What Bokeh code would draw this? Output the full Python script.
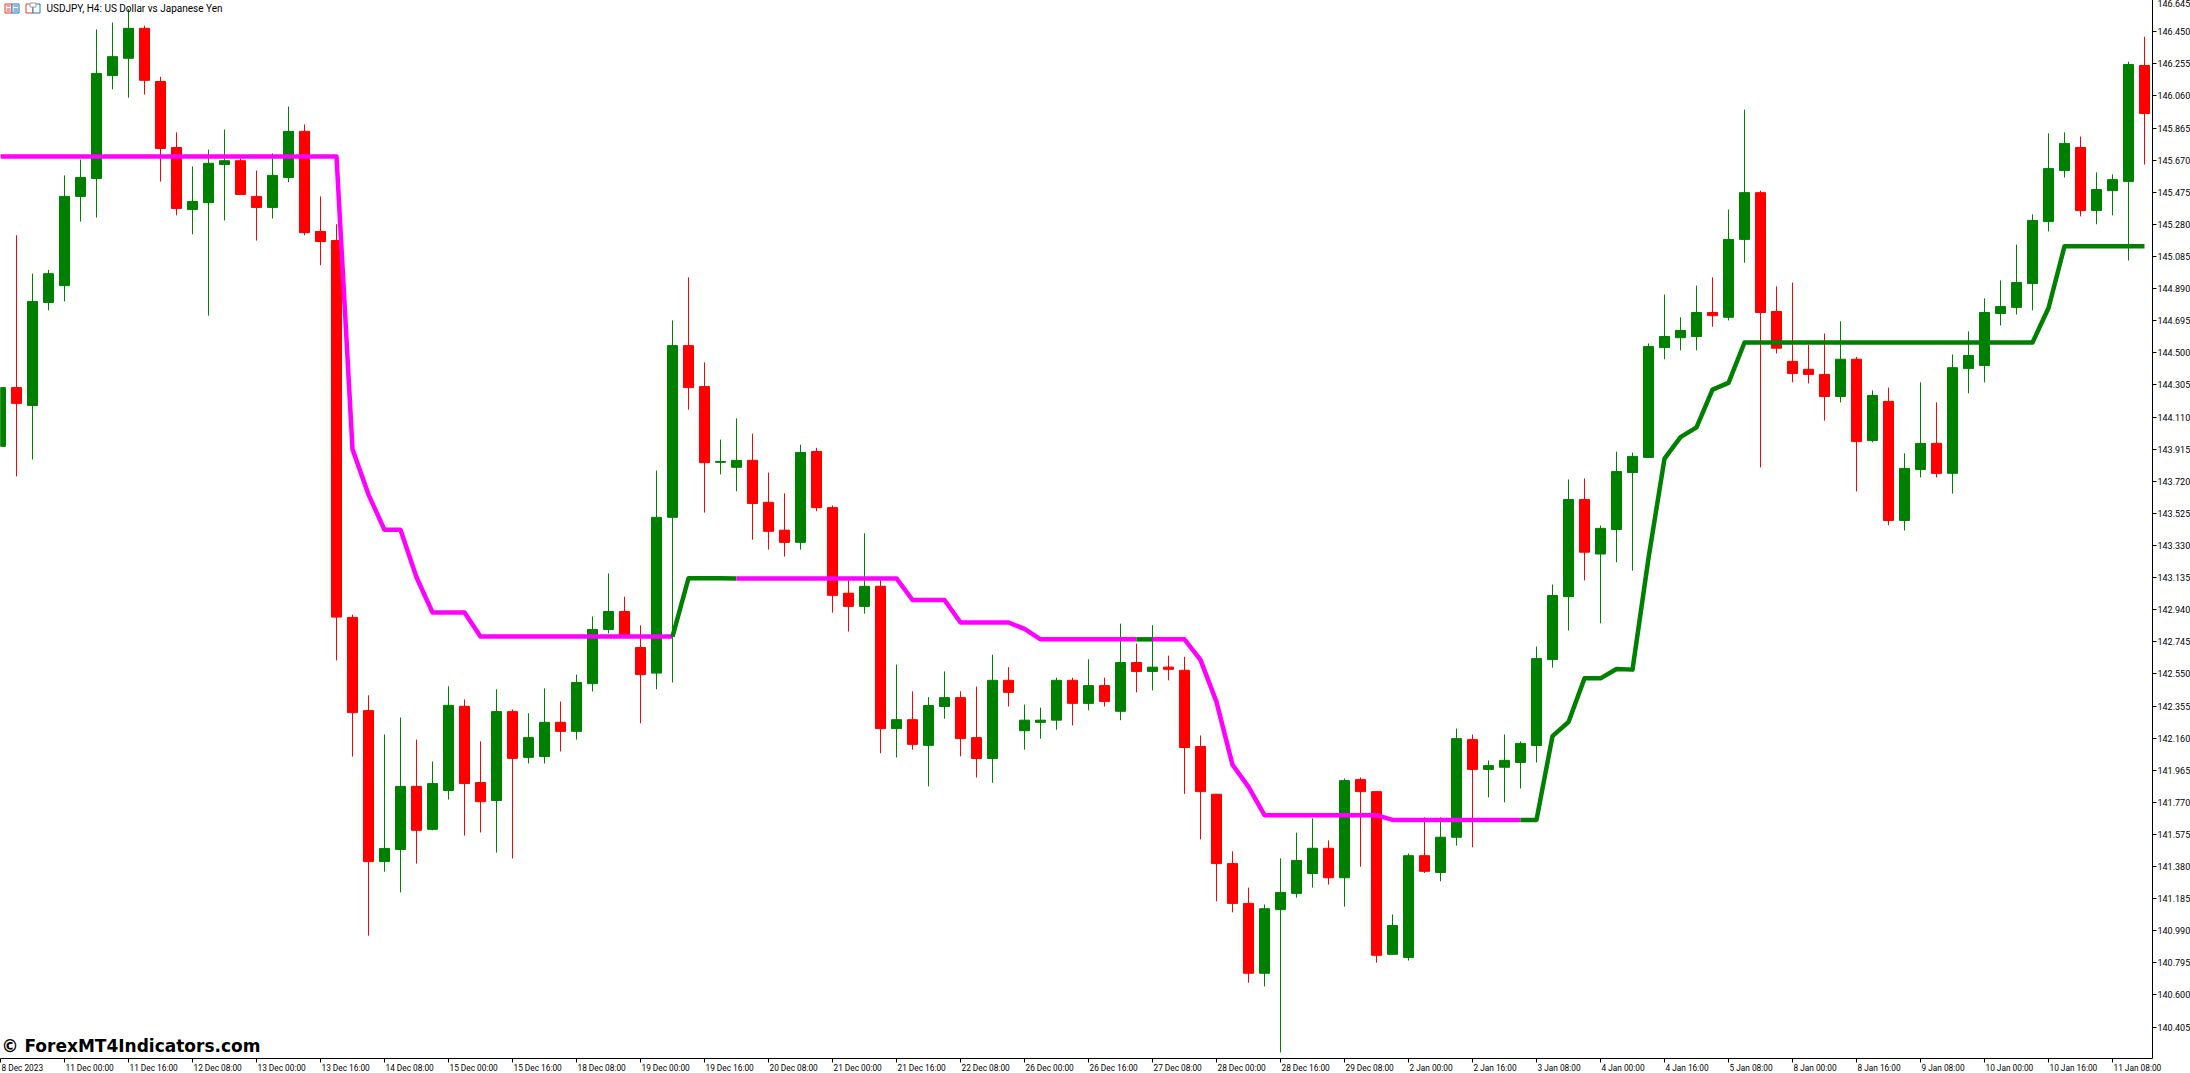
from bokeh.plotting import figure
from bokeh.models import (FixedTicker, Label, ColumnDataSource, Range1d, LinearAxis)
from bokeh.embed import file_html
from bokeh.resources import INLINE

highs = [144.289,145.214,144.981,145.004,145.578,145.674,146.464,146.506,146.588,146.487,
146.176,145.839,145.632,145.734,145.856,145.682,145.607,145.711,145.996,145.887,
145.450,145.281,142.910,142.420,142.182,142.285,142.151,142.018,142.475,142.395,
142.140,142.456,142.334,142.311,142.462,142.382,142.546,142.899,143.160,143.019,
142.845,143.785,144.697,144.958,144.442,143.973,144.102,144.009,143.773,143.646,
143.942,143.923,143.573,143.117,143.404,143.120,142.607,142.444,142.409,142.565,
142.444,142.473,142.667,142.591,142.364,142.345,142.527,142.527,142.639,142.527,
142.855,142.734,142.846,142.661,142.654,142.176,141.819,141.472,141.252,141.150,
141.430,141.586,141.673,141.539,141.915,141.921,141.835,141.089,141.459,141.679,
141.679,142.218,142.182,142.025,142.182,142.140,142.716,143.093,143.731,143.737,
143.451,143.900,143.894,144.557,144.854,144.716,144.908,144.958,145.370,145.977,
145.485,144.904,144.927,144.548,144.617,144.691,144.475,144.272,144.289,143.890,
144.321,144.199,144.490,144.630,144.831,144.940,145.157,145.341,145.833,145.839,
145.814,145.596,145.584,146.268,146.420]

opens = [143.932,144.289,144.180,144.806,144.908,145.450,145.559,146.184,146.289,146.471,
146.148,145.747,145.370,145.412,145.644,145.667,145.450,145.383,145.565,145.845,
145.237,145.182,142.893,142.327,141.410,141.484,141.867,141.606,141.842,142.353,
141.890,141.781,142.321,142.043,142.048,142.256,142.201,142.491,142.820,142.929,
142.710,142.555,143.501,144.544,144.295,143.835,143.805,143.847,143.592,143.423,
143.349,143.901,143.560,143.040,142.960,143.082,142.218,142.272,142.116,142.352,
142.406,142.163,142.036,142.511,142.205,142.256,142.269,142.511,142.371,142.479,
142.323,142.619,142.565,142.591,142.572,142.109,141.819,141.398,141.156,140.732,
141.118,141.217,141.338,141.491,141.312,141.908,141.835,140.847,140.828,141.446,
141.344,141.558,142.151,141.970,141.983,142.012,142.115,142.637,143.019,143.609,
143.278,143.427,143.773,143.865,144.532,144.592,144.599,144.745,144.716,145.189,
145.473,144.751,144.448,144.400,144.369,144.235,144.461,143.967,144.205,143.482,
143.791,143.950,143.768,144.404,144.423,144.739,144.776,144.921,145.297,145.607,
145.747,145.364,145.485,145.540,146.245]

closes = [144.289,144.193,144.812,144.981,145.450,145.565,146.197,146.299,146.471,146.155,
145.741,145.377,145.419,145.651,145.667,145.462,145.383,145.578,145.845,145.230,
145.176,142.895,142.315,141.410,141.490,141.867,141.600,141.884,142.359,141.884,
141.774,142.321,142.037,142.163,142.256,142.201,142.498,142.820,142.929,142.780,
142.546,143.501,144.544,144.289,143.833,143.840,143.847,143.585,143.416,143.349,
143.895,143.560,143.027,142.960,143.082,142.218,142.272,142.122,142.358,142.406,
142.157,142.036,142.511,142.438,142.269,142.269,142.511,142.371,142.479,142.383,
142.619,142.565,142.591,142.578,142.103,141.835,141.398,141.156,140.732,141.124,
141.223,141.417,141.491,141.312,141.902,141.835,140.841,141.022,141.446,141.351,
141.558,142.157,141.970,141.993,142.025,142.128,142.643,143.026,143.609,143.289,
143.434,143.779,143.871,144.538,144.599,144.636,144.745,144.726,145.189,145.473,
144.745,144.528,144.375,144.369,144.235,144.461,143.961,144.241,143.482,143.798,
143.950,143.768,144.410,144.484,144.745,144.781,144.927,145.304,145.619,145.772,
145.364,145.492,145.552,146.251,145.954]

lows = [143.932,143.750,143.852,144.758,144.812,145.297,145.322,146.100,146.050,146.069,
145.540,145.335,145.220,144.726,145.304,145.462,145.182,145.316,145.536,145.214,
145.032,142.632,142.048,140.960,141.349,141.223,141.398,141.600,141.787,141.568,
141.587,141.465,141.429,142.006,142.006,142.079,142.151,142.443,142.796,142.775,
142.250,142.456,142.498,144.155,143.530,143.762,143.659,143.365,143.305,143.263,
143.305,143.538,142.922,142.807,142.916,142.068,142.042,142.090,141.867,142.278,
142.049,141.921,141.889,142.352,142.090,142.157,142.211,142.237,142.329,142.352,
142.269,142.438,142.450,142.511,141.822,141.545,141.169,141.102,140.675,140.652,
140.251,141.191,141.252,141.271,141.137,141.379,140.796,140.847,140.809,141.341,
141.290,141.507,141.497,141.800,141.770,141.854,142.012,142.588,142.813,143.118,
142.857,143.228,143.177,143.865,144.461,144.515,144.515,144.659,144.697,145.048,
143.804,144.496,144.321,144.314,144.088,144.199,143.658,143.957,143.453,143.421,
143.743,143.743,143.645,144.254,144.321,144.666,144.733,144.758,145.237,145.565,
145.329,145.281,145.335,145.061,145.644]

stop_line = [145.693]*22 + [143.915,143.639,143.425,143.425,143.137,142.923,142.923,142.923] \
    + [142.777]*13 + [143.131]*3 + [143.130]*11 + [142.999]*3 + [142.862]*4 + [142.823] \
    + [142.760]*10 + [142.635,142.380,141.998,141.864] + [141.692]*8 + [141.663]*10 \
    + [142.172,142.258,142.523,142.523,142.580,142.576,143.253,143.858,143.988,144.047,144.277,144.318] \
    + [144.563]*19 + [144.772] + [145.147]*6
green_runs = [(42, 46), (71, 72), (95, 134)]

tick_bars = list(range(0, 133, 4))
tick_labels = ["8 Dec 2023","11 Dec 00:00","11 Dec 16:00","12 Dec 08:00","13 Dec 00:00","13 Dec 16:00",
 "14 Dec 08:00","15 Dec 00:00","15 Dec 16:00","18 Dec 08:00","19 Dec 00:00","19 Dec 16:00",
 "20 Dec 08:00","21 Dec 00:00","21 Dec 16:00","22 Dec 08:00","26 Dec 00:00","26 Dec 16:00",
 "27 Dec 08:00","28 Dec 00:00","28 Dec 16:00","29 Dec 08:00","2 Jan 00:00","2 Jan 16:00",
 "3 Jan 08:00","4 Jan 00:00","4 Jan 16:00","5 Jan 08:00","8 Jan 00:00","8 Jan 16:00",
 "9 Jan 08:00","10 Jan 00:00","10 Jan 16:00","11 Jan 08:00"]
price_ticks = [140.405,140.600,140.795,140.990,141.185,141.380,141.575,141.770,141.965,142.160,
 142.355,142.550,142.745,142.940,143.135,143.330,143.525,143.720,143.915,144.110,144.305,144.500,
 144.695,144.890,145.085,145.280,145.475,145.670,145.865,146.060,146.255,146.450,146.645]
title_text = "USDJPY, H4:  US Dollar vs Japanese Yen"
mark_text = "\u00a9 ForexMT4Indicators.com"

GREEN, RED, MAGENTA = "#008000", "#ff0000", "#ff00ff"
FONT = "Roboto"
FSIZE = "9px"
XFS = 8.3
FW, FH = 2152, 1059       # the frame starts one pixel above the page top
PX_PER_BAR = 16.0
PX_PER_PRICE = 164.65
x_start = 0.0
y_top = 146.646

p = figure(width=2190, height=1074, frame_width=FW, frame_height=FH,
           output_backend="svg", toolbar_location=None,
           x_range=Range1d(x_start, x_start + FW / PX_PER_BAR),
           y_range=Range1d(y_top - FH / PX_PER_PRICE, y_top),
           x_axis_location=None, y_axis_location=None,
           min_border_left=0, min_border_top=0, min_border_right=38, min_border_bottom=15,
           margin=(-1, 0, 0, 0), outline_line_color=None, background_fill_color="white")
p.grid.visible = False

# tick marks sit on the bars; the labels start just right of the tick, as in the reference
xa = LinearAxis(ticker=FixedTicker(ticks=tick_bars),
                major_label_overrides={k: "" for k in tick_bars},
                major_tick_in=0, major_tick_out=4, minor_tick_line_color=None,
                axis_line_color="black", major_tick_line_color="black",
                major_label_standoff=0, major_label_text_font_size="1px")
p.add_layout(xa, "below")

WIDTHS = {":": .242, " ": .2475, "D": .655, "e": .53, "c": .524, "J": .551, "a": .544, "n": .551}
def text_px(t):
    return sum(WIDTHS.get(ch, .5615) for ch in t) * XFS

label_pos = [round(k + (1 + text_px(t) / 2) / PX_PER_BAR, 3) for k, t in zip(tick_bars, tick_labels)]
xl = LinearAxis(ticker=FixedTicker(ticks=label_pos),
                major_label_overrides=dict(zip(label_pos, tick_labels)),
                major_tick_in=0, major_tick_out=0, minor_tick_line_color=None,
                axis_line_color=None, major_tick_line_color=None,
                major_label_standoff=0, major_label_text_font=FONT,
                major_label_text_font_size=f"{XFS}px", major_label_text_color="black")
p.add_layout(xl, "below")

ya = LinearAxis(ticker=FixedTicker(ticks=price_ticks),
                major_label_overrides={t: f"{t:.3f}" for t in price_ticks},
                major_tick_in=0, major_tick_out=4, minor_tick_line_color=None,
                axis_line_color="black", major_tick_line_color="black",
                major_label_standoff=1, major_label_text_font=FONT,
                major_label_text_font_size=FSIZE, major_label_text_color="black")
p.add_layout(ya, "right")

bars = list(range(len(opens)))
up = [c >= o for o, c in zip(opens, closes)]
cols = [GREEN if u else RED for u in up]
src = ColumnDataSource(dict(x=bars, high=highs, low=lows,
                            top=[max(o, c) for o, c in zip(opens, closes)],
                            bottom=[min(o, c) for o, c in zip(opens, closes)], color=cols))
p.segment("x", "high", "x", "low", source=src, line_color="color", line_width=1)
p.vbar("x", top="top", bottom="bottom", width=10 / PX_PER_BAR, source=src,
       fill_color="color", line_color="color", line_width=1)

# indicator line, split into coloured runs
edges = [0]
for a, b in green_runs:
    edges += [a, b]
if edges[-1] != bars[-1]:
    edges.append(bars[-1])
starts = {a for a, _ in green_runs}
for a, b in zip(edges[:-1], edges[1:]):
    p.line(bars[a:b + 1], stop_line[a:b + 1], line_color=GREEN if a in starts else MAGENTA,
           line_width=4.5, line_join="round", line_cap="butt")

# small header icons
def sx(px): return x_start + px / PX_PER_BAR
def sy(py): return y_top - (py + 1) / PX_PER_PRICE
def box(x0, y0, x1, y1, col):
    p.quad(left=sx(x0), right=sx(x1), top=sy(y0), bottom=sy(y1), fill_color="white", line_color=col, line_width=1)
def dash(x0, x1, y, col):
    p.segment(sx(x0), sy(y), sx(x1), sy(y), line_color=col, line_width=1)
box(4.5, 3.5, 11.5, 12.5, "#e03c31")
box(11.5, 3.5, 18.5, 12.5, "#1b75bb")
for yy in (5.5, 8.5, 10.5):
    dash(6, 10, yy, "#e03c31")
    dash(13, 17.5, yy, "#1b75bb")
box(25.5, 3.5, 32.5, 12.5, "#e03c31")
box(32.5, 3.5, 39.5, 12.5, "#1b75bb")
box(29.5, 2.5, 35.5, 6.5, "#9a9a9a")

p.add_layout(Label(x=46, y=1058 - 8, x_units="screen", y_units="screen", text=title_text,
                   text_font=FONT, text_font_size="10px", text_color="black",
                   text_baseline="middle", text_align="left"))
p.add_layout(Label(x=1, y=1058 - 1045.5, x_units="screen", y_units="screen", text=mark_text,
                   text_font="DejaVu Sans", text_font_style="bold", text_font_size="17px",
                   text_color="black", text_baseline="middle", text_align="left"))

open("out.html", "w").write(file_html(p, INLINE))
